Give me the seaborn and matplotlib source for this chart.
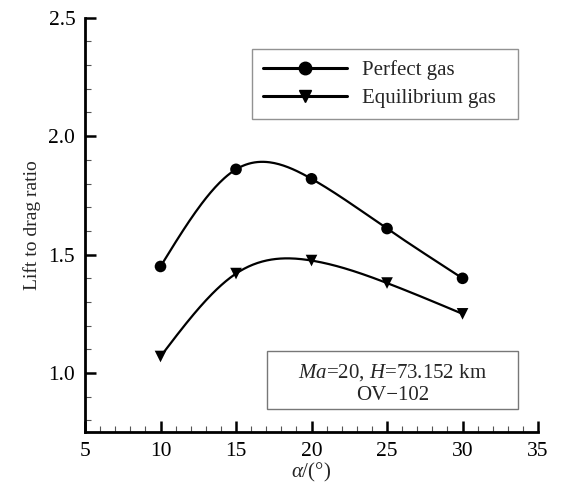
import numpy as np
import pandas as pd
import matplotlib
matplotlib.use("Agg")
import matplotlib.pyplot as plt
from matplotlib.lines import Line2D
from matplotlib.patches import Rectangle
from matplotlib.ticker import MultipleLocator
import seaborn as sns

# Angle of attack (deg) and lift-to-drag ratio for the two gas models
alpha = [10, 15, 20, 25, 30]
perfect_gas = [1.45, 1.86, 1.82, 1.61, 1.40]
equilibrium_gas = [1.07, 1.42, 1.475, 1.38, 1.25]
series_labels = ["Perfect gas", "Equilibrium gas"]
x_ticks = [5, 10, 15, 20, 25, 30, 35]
y_ticks = [1.0, 1.5, 2.0, 2.5]


def natural_spline(x, y, n=200):
    """Natural cubic spline through the given points, sampled on a fine grid."""
    x = np.asarray(x, float)
    y = np.asarray(y, float)
    k = len(x)
    h = np.diff(x)
    A = np.zeros((k, k))
    b = np.zeros(k)
    A[0, 0] = A[-1, -1] = 1.0
    for i in range(1, k - 1):
        A[i, i - 1] = h[i - 1]
        A[i, i] = 2 * (h[i - 1] + h[i])
        A[i, i + 1] = h[i]
        b[i] = 3 * ((y[i + 1] - y[i]) / h[i] - (y[i] - y[i - 1]) / h[i - 1])
    c = np.linalg.solve(A, b)
    xs = np.linspace(x[0], x[-1], n)
    idx = np.clip(np.searchsorted(x, xs) - 1, 0, k - 2)
    dx = xs - x[idx]
    hi = h[idx]
    bi = (y[idx + 1] - y[idx]) / hi - hi * (2 * c[idx] + c[idx + 1]) / 3
    di = (c[idx + 1] - c[idx]) / (3 * hi)
    ys = y[idx] + bi * dx + c[idx] * dx ** 2 + di * dx ** 3
    return xs, ys


sns.set_style("ticks")
plt.rcParams["font.family"] = ["Liberation Serif", "DejaVu Serif"]
plt.rcParams["mathtext.fontset"] = "custom"
plt.rcParams["mathtext.rm"] = "Liberation Serif"
plt.rcParams["mathtext.it"] = "Liberation Serif:italic"

fig = plt.figure(figsize=(5.64, 4.84), dpi=100, facecolor="white")
ax = fig.add_axes([0.1507, 0.1068, 0.8033, 0.8566])
ax.set_facecolor("white")

points = pd.DataFrame({
    "alpha": alpha * 2,
    "ld": perfect_gas + equilibrium_gas,
    "gas": [series_labels[0]] * len(alpha) + [series_labels[1]] * len(alpha),
})

curves = []
for lab, vals in zip(series_labels, [perfect_gas, equilibrium_gas]):
    xs, ys = natural_spline(alpha, vals)
    curves.append(pd.DataFrame({"alpha": xs, "ld": ys, "gas": lab}))
curves = pd.concat(curves, ignore_index=True)

sns.lineplot(data=curves, x="alpha", y="ld", hue="gas",
             palette=["black", "black"], linewidth=1.6, sort=False,
             estimator=None, legend=False, ax=ax)
sns.scatterplot(data=points, x="alpha", y="ld", style="gas",
                markers={series_labels[0]: "o", series_labels[1]: "v"},
                color="black", s=70, edgecolor="black", linewidth=0,
                legend=False, ax=ax)

ax.set_xlim(5, 35)
ax.set_ylim(0.75, 2.5)
ax.set_xticks(x_ticks)
ax.set_yticks(y_ticks)
ax.set_yticklabels([f"{v:.1f}" for v in y_ticks])
ax.xaxis.set_minor_locator(MultipleLocator(1))
ax.yaxis.set_minor_locator(MultipleLocator(0.1))

for side in ["top", "right"]:
    ax.spines[side].set_visible(False)
for side in ["left", "bottom"]:
    ax.spines[side].set_linewidth(2.0)
    ax.spines[side].set_color("black")

ax.tick_params(which="major", direction="in", length=8, width=1.8,
               labelsize=15.5, pad=7, colors="black")
ax.tick_params(which="minor", direction="in", length=4, width=0.8,
               colors="#555555")

ax.set_xlabel(r"$\mathit{\alpha}$/(°)", fontsize=15, labelpad=0)
ax.set_ylabel("Lift to drag ratio", fontsize=14, labelpad=5)

handles = [
    Line2D([], [], color="black", linewidth=2.2, marker="o", markersize=9),
    Line2D([], [], color="black", linewidth=2.2, marker="v", markersize=8),
]
leg = ax.legend(handles, series_labels, loc="upper left",
                bbox_to_anchor=(0.3687, 0.8245, 0.5873, 0.1), mode="expand",
                fontsize=15, frameon=True, fancybox=False,
                edgecolor="#777777", handlelength=4.0, handletextpad=0.75,
                borderpad=0.55, labelspacing=0.38, numpoints=1,
                borderaxespad=0)
leg.get_frame().set_linewidth(1.0)

# Flow condition box
ax.add_patch(Rectangle((0.4018, 0.0562), 0.5541, 0.1398,
                       transform=ax.transAxes, facecolor="white",
                       edgecolor="#777777", linewidth=1.0, zorder=4))
ax.text(0.679, 0.117, "$\\mathit{Ma}$=20, $\\mathit{H}$=73.152 km\nOV\u2212102",
        transform=ax.transAxes, ha="center", va="center", fontsize=15,
        linespacing=1.2, multialignment="center", zorder=5)

fig.savefig("out.png", dpi=100, facecolor="white")
